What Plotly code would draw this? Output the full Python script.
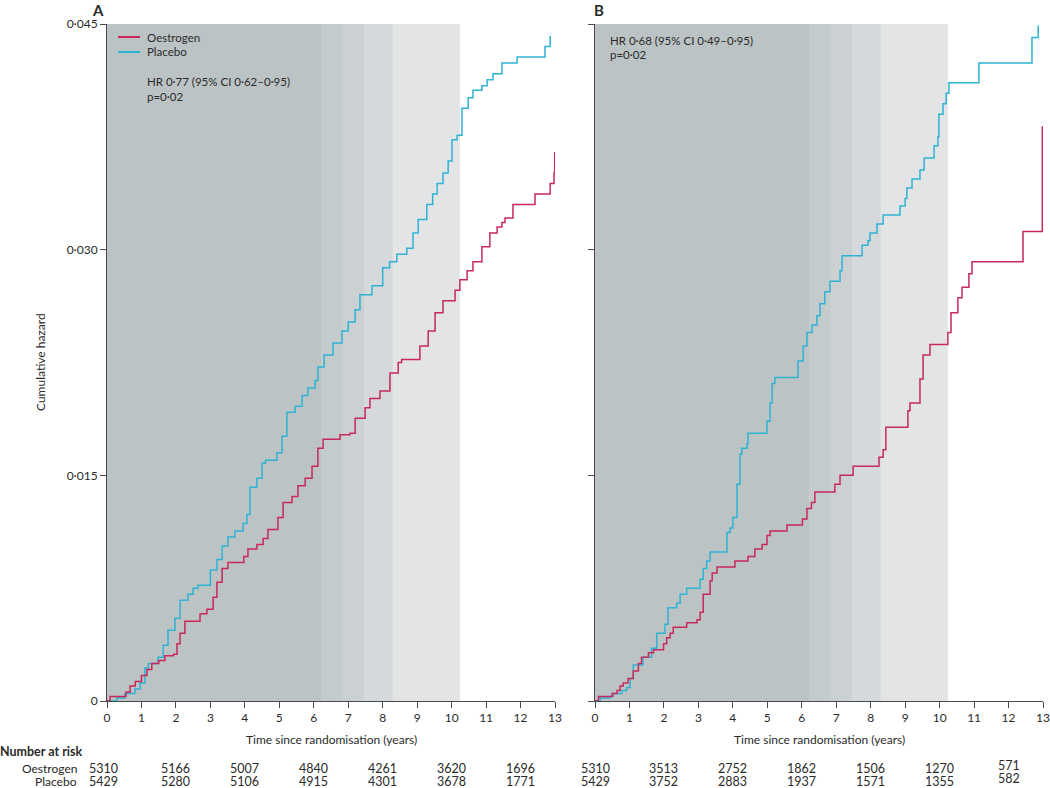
import plotly.graph_objects as go

# ---------------- data ----------------
# Panel A cumulative hazard step points: time (years), hazard after step
a_placebo_t = [0, 0.28, 0.52, 0.81, 0.96, 1.10, 1.20, 1.48, 1.63, 1.77, 1.97, 2.12, 2.35, 2.50, 2.64,
               3.00, 3.19, 3.34, 3.51, 3.71, 3.95, 4.06, 4.15, 4.35, 4.50, 4.60, 4.93, 5.08, 5.22,
               5.46, 5.66, 5.83, 6.04, 6.12, 6.30, 6.56, 6.82, 7.00, 7.20, 7.34, 7.69, 8.00, 8.20,
               8.41, 8.70, 8.88, 9.03, 9.28, 9.45, 9.58, 9.75, 9.90, 10.01, 10.16, 10.30, 10.48,
               10.62, 10.88, 11.03, 11.20, 11.46, 11.90, 12.71, 12.86]
a_placebo_h = [0, 0.0002, 0.0005, 0.0008, 0.0012, 0.0022, 0.0025, 0.0029, 0.0037, 0.0047, 0.0055,
               0.0067, 0.0071, 0.0075, 0.0077, 0.0087, 0.0094, 0.0103, 0.0109, 0.0113, 0.0118,
               0.0124, 0.0142, 0.0148, 0.0158, 0.0160, 0.0165, 0.0176, 0.0192, 0.0196, 0.0203,
               0.0208, 0.0213, 0.0222, 0.0230, 0.0238, 0.0246, 0.0252, 0.0260, 0.0270, 0.0276,
               0.0288, 0.0292, 0.0297, 0.0301, 0.0311, 0.0320, 0.0330, 0.0337, 0.0344, 0.0351,
               0.0359, 0.0373, 0.0376, 0.0394, 0.0401, 0.0406, 0.0409, 0.0413, 0.0417, 0.0424,
               0.0428, 0.0435, 0.0442]

a_oestrogen_t = [0, 0.09, 0.55, 0.67, 0.82, 1.00, 1.16, 1.30, 1.50, 1.68, 1.93, 2.03, 2.12, 2.26,
                 2.70, 2.90, 3.08, 3.19, 3.34, 3.51, 3.97, 4.09, 4.35, 4.53, 4.67, 4.96, 5.11,
                 5.37, 5.54, 5.75, 5.95, 6.12, 6.27, 6.76, 7.05, 7.20, 7.49, 7.63, 7.92, 8.21,
                 8.45, 8.55, 9.08, 9.32, 9.52, 9.75, 10.10, 10.24, 10.45, 10.62, 10.88, 11.11,
                 11.32, 11.46, 11.55, 11.78, 12.42, 12.86, 12.97, 12.99]
a_oestrogen_h = [0, 0.0003, 0.0006, 0.0010, 0.0013, 0.0017, 0.0021, 0.0025, 0.0027, 0.0030,
                 0.0031, 0.0038, 0.0045, 0.0053, 0.0058, 0.0061, 0.0069, 0.0079, 0.0088, 0.0092,
                 0.0096, 0.0101, 0.0104, 0.0108, 0.0114, 0.0122, 0.0132, 0.0136, 0.0143, 0.0148,
                 0.0156, 0.0168, 0.0174, 0.0177, 0.0178, 0.0188, 0.0195, 0.0201, 0.0206, 0.0218,
                 0.0225, 0.0227, 0.0236, 0.0246, 0.0258, 0.0266, 0.0273, 0.0280, 0.0286, 0.0292,
                 0.0302, 0.0311, 0.0315, 0.0318, 0.0321, 0.0330, 0.0337, 0.0344, 0.0351, 0.0365]

# Panel B
b_placebo_t = [0, 0.15, 0.43, 0.53, 0.78, 0.92, 1.02, 1.11, 1.39, 1.64, 1.79, 2.03, 2.12, 2.37,
               2.47, 2.66, 3.05, 3.14, 3.24, 3.34, 3.83, 3.92, 4.00, 4.12, 4.21, 4.26, 4.41, 4.44,
               4.99, 5.08, 5.14, 5.22, 5.89, 6.04, 6.15, 6.30, 6.44, 6.53, 6.67, 6.82, 7.11, 7.17,
               7.75, 7.92, 7.98, 8.18, 8.36, 8.85, 9.00, 9.05, 9.20, 9.43, 9.55, 9.84, 9.95, 9.98,
               10.10, 10.19, 10.27, 11.14, 12.68, 12.86]
b_placebo_h = [0, 0.0002, 0.0003, 0.0005, 0.0007, 0.0009, 0.0015, 0.0024, 0.0029, 0.0035, 0.0045,
               0.0051, 0.0062, 0.0065, 0.0071, 0.0075, 0.0081, 0.0088, 0.0093, 0.0099, 0.0112,
               0.0115, 0.0122, 0.0144, 0.0164, 0.0168, 0.0171, 0.0178, 0.0186, 0.0198, 0.0211,
               0.0215, 0.0226, 0.0236, 0.0245, 0.0250, 0.0256, 0.0264, 0.0272, 0.0279, 0.0286,
               0.0296, 0.0303, 0.0306, 0.0311, 0.0317, 0.0323, 0.0329, 0.0334, 0.0341, 0.0347,
               0.0353, 0.0361, 0.0369, 0.0375, 0.0390, 0.0397, 0.0404, 0.0411, 0.0424, 0.0441,
               0.0449]

b_oestrogen_t = [0, 0.10, 0.50, 0.64, 0.73, 0.82, 0.96, 1.11, 1.26, 1.35, 1.55, 1.70, 1.99, 2.08,
                 2.18, 2.27, 2.66, 2.96, 3.05, 3.14, 3.34, 3.40, 3.54, 4.06, 4.44, 4.64, 4.85,
                 4.99, 5.08, 5.57, 6.02, 6.15, 6.28, 6.38, 6.96, 7.11, 7.49, 8.24, 8.36, 8.44,
                 9.08, 9.14, 9.43, 9.52, 9.72, 10.24, 10.33, 10.53, 10.65, 10.85, 10.94, 12.42,
                 12.98]
b_oestrogen_h = [0, 0.0003, 0.0005, 0.0007, 0.0010, 0.0012, 0.0015, 0.0020, 0.0025, 0.0029,
                 0.0032, 0.0034, 0.0038, 0.0042, 0.0045, 0.0049, 0.0052, 0.0054, 0.0059, 0.0071,
                 0.0080, 0.0085, 0.0089, 0.0093, 0.0096, 0.0101, 0.0104, 0.0110, 0.0113, 0.0117,
                 0.0121, 0.0128, 0.0132, 0.0139, 0.0144, 0.0150, 0.0156, 0.0162, 0.0167, 0.0182,
                 0.0193, 0.0198, 0.0214, 0.0230, 0.0237, 0.0245, 0.0258, 0.0268, 0.0275, 0.0284,
                 0.0292, 0.0312, 0.0382]

# shaded bands (time edges, years)
band_edges = [0, 6.21, 6.83, 7.46, 8.29, 10.24]
band_colors = ["#bcc3c5", "#c4cbcd", "#cbd1d3", "#d5d9db", "#e3e4e5"]

# number at risk
risk_times = [0, 2, 4, 6, 8, 10, 12]
a_risk_oestrogen = [5310, 5166, 5007, 4840, 4261, 3620, 1696]
a_risk_placebo = [5429, 5280, 5106, 4915, 4301, 3678, 1771]
b_risk_oestrogen = [5310, 3513, 2752, 1862, 1506, 1270, 571]
b_risk_placebo = [5429, 3752, 2883, 1937, 1571, 1355, 582]

y_tickvals = [0, 0.015, 0.030, 0.045]
y_ticktext = ["0", "0·015", "0·030", "0·045"]
x_tickvals = list(range(0, 14))

RED = "#c8285a"
BLUE = "#2fb3d3"
TXT = "#2a2a2a"
AX = "#4a4a4a"
FONT = "Lato"

W, H = 1050, 788
def px_x(p):
    return p / W
def px_y(p):
    return 1 - p / H

fig = go.Figure()

for xa, ya, tp, hp, to, ho in [("x", "y", a_placebo_t, a_placebo_h, a_oestrogen_t, a_oestrogen_h),
                               ("x2", "y2", b_placebo_t, b_placebo_h, b_oestrogen_t, b_oestrogen_h)]:
    fig.add_trace(go.Scatter(x=tp, y=hp, mode="lines", line=dict(color=BLUE, width=1.5, shape="hv"),
                             name="Placebo", xaxis=xa, yaxis=ya, showlegend=False, cliponaxis=False))
    fig.add_trace(go.Scatter(x=to, y=ho, mode="lines", line=dict(color=RED, width=1.5, shape="hv"),
                             name="Oestrogen", xaxis=xa, yaxis=ya, showlegend=False, cliponaxis=False))

shapes = []
for xref, yref in [("x", "y domain"), ("x2", "y2 domain")]:
    # stacked from widest (lightest) to narrowest (darkest) so there are no seams
    for i in range(len(band_colors) - 1, -1, -1):
        shapes.append(dict(type="rect", xref=xref, yref=yref, x0=band_edges[0], x1=band_edges[i + 1],
                           y0=0, y1=1, fillcolor=band_colors[i], line=dict(width=0), layer="below"))

# legend swatches (panel A)
for yy, col in [(37, RED), (52, BLUE)]:
    shapes.append(dict(type="line", xref="paper", yref="paper", x0=px_x(118), x1=px_x(140),
                       y0=px_y(yy), y1=px_y(yy), line=dict(color=col, width=2)))

dom_y = [px_y(701), px_y(24)]
axis_common = dict(showgrid=False, zeroline=False, showline=True, linecolor=AX, linewidth=1,
                   ticks="outside", tickcolor=AX, ticklen=6, tickwidth=1, automargin=False,
                   tickfont=dict(family=FONT, size=12, color=TXT))
fig.update_layout(
    width=W, height=H, autosize=False,
    margin=dict(l=0, r=0, t=0, b=0, pad=0),
    paper_bgcolor="white", plot_bgcolor="white",
    showlegend=False,
    font=dict(family=FONT, color=TXT),
    xaxis=dict(domain=[px_x(107), px_x(555)], range=[0, 13], tickvals=x_tickvals, anchor="y",
               **axis_common),
    xaxis2=dict(domain=[px_x(595), px_x(1043)], range=[0, 13], tickvals=x_tickvals, anchor="y2",
                **axis_common),
    yaxis=dict(domain=dom_y, range=[0, 0.045], tickvals=y_tickvals, ticktext=y_ticktext,
               anchor="x", **axis_common),
    yaxis2=dict(domain=dom_y, range=[0, 0.045], tickvals=y_tickvals, showticklabels=False,
                anchor="x2", **axis_common),
    shapes=shapes,
)

ann = []
def text(x, y, s, size=11.5, anchor="left", bold=False, **kw):
    ann.append(dict(xref="paper", yref="paper", x=px_x(x), y=px_y(y), text=("<b>%s</b>" % s if bold else s),
                    showarrow=False, xanchor=anchor, yanchor="middle",
                    font=dict(family=FONT, size=size, color=TXT), **kw))

text(90, 10, "A", size=15, bold=True)
text(592, 10, "B", size=15, bold=True)
text(145, 37, "Oestrogen")
text(145, 52, "Placebo")
text(145, 81, "HR 0·77 (95% CI 0·62–0·95)")
text(145, 96, "p=0·02")
text(608, 40, "HR 0·68 (95% CI 0·49–0·95)")
text(608, 54, "p=0·02")
text(331, 739, "Time since randomisation (years)", size=12, anchor="center")
text(819, 739, "Time since randomisation (years)", size=12, anchor="center")
ann.append(dict(xref="paper", yref="paper", x=px_x(40), y=px_y(362), text="Cumulative hazard",
                showarrow=False, textangle=-90, xanchor="center", yanchor="middle",
                font=dict(family=FONT, size=12, color=TXT)))
text(0, 751, "Number at risk", size=12.5, bold=True, xshift=-2)
text(79, 768, "Oestrogen", size=12, anchor="right")
text(79, 781, "Placebo", size=12, anchor="right")

for xref, oe, pl in [("x", a_risk_oestrogen, a_risk_placebo),
                     ("x2", b_risk_oestrogen, b_risk_placebo)]:
    for i, t in enumerate(risk_times):
        lift = 3 if (xref == "x2" and t == 12) else 0
        xs = -4 if (xref == "x" and t == 0) else 0
        for val, yy in [(oe[i], 768), (pl[i], 781)]:
            ann.append(dict(xref=xref, yref="paper", x=t, y=px_y(yy), xshift=xs, yshift=lift,
                            text=str(val), showarrow=False, xanchor="center", yanchor="middle",
                            font=dict(family=FONT, size=12.5, color=TXT)))

fig.update_layout(annotations=ann)
fig.write_html("out.html", config={"displayModeBar": False},
               post_script="document.body.style.margin='0px';document.body.style.overflow='hidden';")
